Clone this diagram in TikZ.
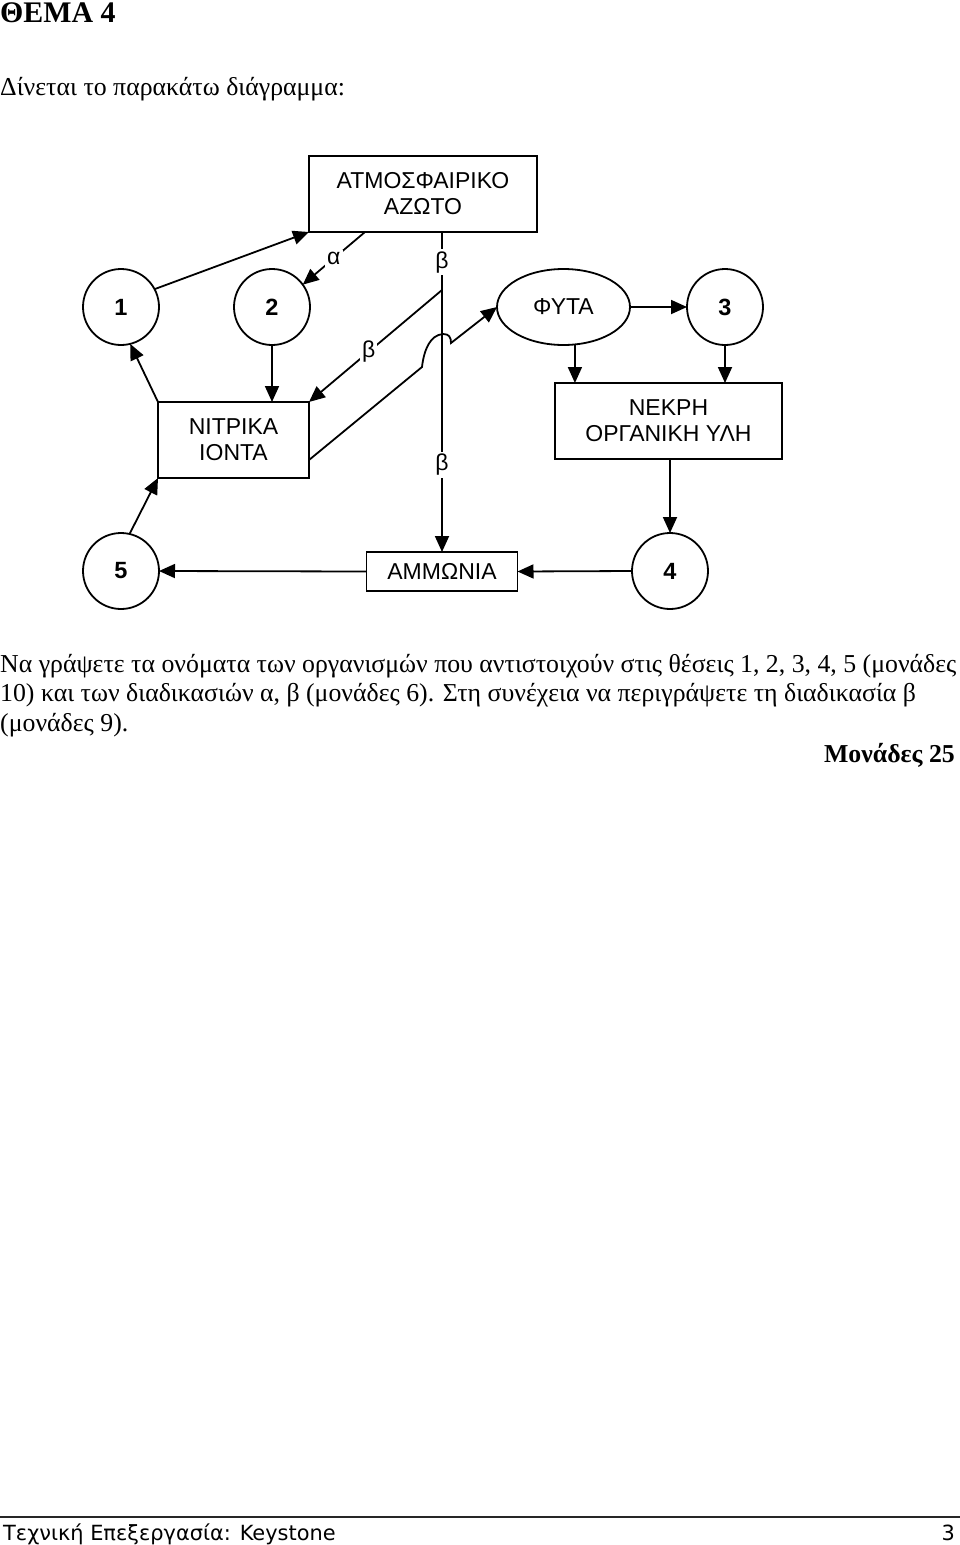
\documentclass[tikz,border=0pt]{standalone}
\usepackage{fontspec}
\setmainfont{Liberation Serif}
\newfontfamily\diagfont{Liberation Sans}
\newfontfamily\footfont{DejaVu Sans}
\usetikzlibrary{arrows.meta,shapes.geometric,calc}
\begin{document}
\begin{tikzpicture}[x=1pt,y=-1pt,
  lw/.style={line width=1.8pt},
  arr/.style={lw,-{Triangle[length=16pt,width=14pt]}},
  dfont/.style={font=\diagfont\fontsize{23}{26}\selectfont},
  circ/.style={circle,draw,lw,minimum size=76pt,inner sep=0pt,outer sep=0pt,font=\diagfont\fontsize{23.5}{26}\selectfont\bfseries},
  box/.style={rectangle,draw,lw,inner sep=0pt,outer sep=0pt,align=center,dfont},
  lbl/.style={fill=white,inner sep=2pt,dfont},
  body/.style={anchor=base west,inner sep=0pt,font=\fontsize{25.8}{29.5}\selectfont}]
\useasboundingbox (0,0) rectangle (960,1545);

% header texts
\node[anchor=base west,inner sep=0pt,font=\fontsize{29.9}{34}\selectfont\bfseries] (title) at (0,22) {ΘΕΜΑ 4};
\node[body] (intro) at (0,95) {Δίνεται το παρακάτω διάγραμμα:};

% diagram nodes
\node[box,minimum width=228pt,minimum height=76pt] (atm) at (423,194) {ΑΤΜΟΣΦΑΙΡΙΚΟ\\ΑΖΩΤΟ};
\node[circ] (n1) at (121,307) {1};
\node[circ] (n2) at (272,307) {2};
\node[ellipse,draw,lw,minimum width=133pt,minimum height=76pt,inner sep=0pt,outer sep=0pt,dfont] (fy) at (563.5,307) {ΦΥΤΑ};
\node[circ] (n3) at (725,307) {3};
\node[box,minimum width=151pt,minimum height=76pt] (nit) at (233.5,440) {ΝΙΤΡΙΚΑ\\ΙΟΝΤΑ};
\node[box,minimum width=227pt,minimum height=76pt] (nek) at (668.5,421) {ΝΕΚΡΗ\\ΟΡΓΑΝΙΚΗ ΥΛΗ};
\node[circ] (n5) at (121,571) {5};
\node[circ] (n4) at (670,571) {4};
\node[box,minimum width=151pt,minimum height=39pt] (amm) at (442,571.5) {ΑΜΜΩΝΙΑ};

% connectors
\draw[arr] (n1.28) -- (atm.south west);
\coordinate (a0) at ($(atm.south west)+(56,0)$);
\draw[arr] (a0) -- node[lbl,pos=0.5]{α} (n2.36);
\draw[arr] (atm.south -| amm.north) -- node[lbl,pos=0.094]{β} node[lbl,pos=0.728]{β} (amm.north);
\coordinate (b1) at (442,290);
\draw[arr] (b1) -- node[lbl,pos=0.55]{β} (nit.north east);
\coordinate (c0) at ($(nit.east)+(0,20)$);
\draw[arr] (c0) -- (422,367) .. controls (424,350) and (430,335) .. (443,334) .. controls (449,334) and (451,337) .. (451,343) -- (fy.west);
\draw[arr] (fy.east) -- (n3.west);
\draw[arr] (fy.-73) -- (fy.-73 |- nek.north);
\draw[arr] (n3.south) -- (n3.south |- nek.north);
\draw[arr] (n4.north |- nek.south) -- (n4.north);
\draw[arr] (n4.west) -- (amm.east);
\draw[arr] (amm.west) -- (n5.east);
\draw[arr] (n5.77) -- (nit.south west);
\draw[arr] (nit.north west) -- (n1.-76);
\draw[arr] (n2.south) -- (n2.south |- nit.north);

% question text
\node[body] (q1) at (0,672) {Να γράψετε τα ονόματα των οργανισμών που αντιστοιχούν στις θέσεις 1, 2, 3, 4, 5 (μονάδες};
\node[body] (q2) at (0,701.5) {10) και των διαδικασιών α, β (μονάδες 6). Στη συνέχεια να περιγράψετε τη διαδικασία β};
\node[body] (q3) at (0,731) {(μονάδες 9).};
\node[anchor=base east,inner sep=0pt,font=\fontsize{25.8}{29.5}\selectfont\bfseries] (marks) at (955,762) {Μονάδες 25};

% footer
\coordinate (fl) at (0,1517);
\coordinate (fr) at (960,1517);
\draw[line width=1.1pt,black!85] (fl) -- (fr);
\node[anchor=base west,inner sep=0pt,font=\footfont\fontsize{20.9}{24}\selectfont] (foot) at (3,1540) {Τεχνική Επεξεργασία: Keystone};
\node[anchor=base east,inner sep=0pt,font=\footfont\fontsize{20.9}{24}\selectfont] (page) at (955,1540) {3};
\end{tikzpicture}
\end{document}
